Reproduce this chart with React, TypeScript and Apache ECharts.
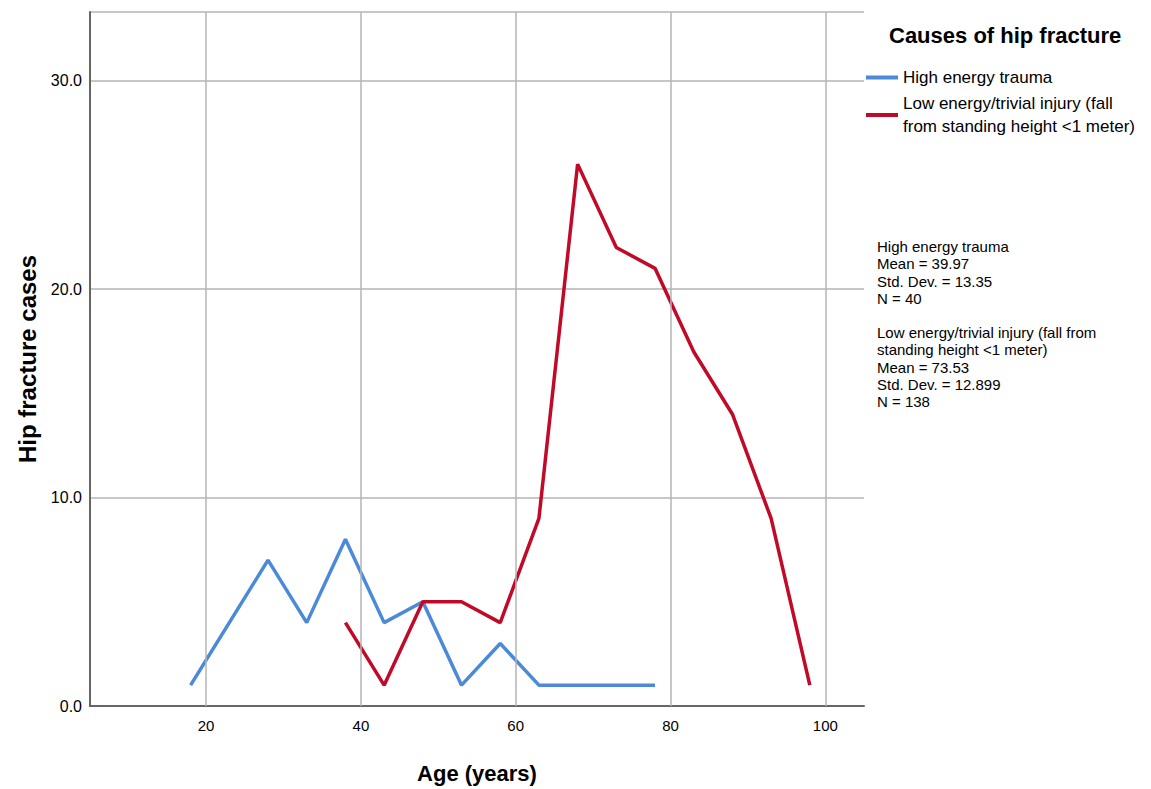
import React, { useEffect, useRef } from "react";
import * as echarts from "echarts";

const ages = [18, 23, 28, 33, 38, 43, 48, 53, 58, 63, 68, 73, 78, 83, 88, 93, 98];
const highEnergy = [1, 4, 7, 4, 8, 4, 5, 1, 3, 1, 1, 1, 1, null, null, null, null];
const lowEnergy = [null, null, null, null, 4, 1, 5, 5, 4, 9, 26, 22, 21, 17, 14, 9, 1];
const xTicks = [20, 40, 60, 80, 100];
const seriesNames = ["High energy trauma", "Low energy/trivial injury (fall from standing height <1 meter)"];
const statsText = [
  "High energy trauma",
  "Mean = 39.97",
  "Std. Dev. = 13.35",
  "N = 40",
  "",
  "Low energy/trivial injury (fall from",
  "standing height <1 meter)",
  "Mean = 73.53",
  "Std. Dev. = 12.899",
  "N = 138",
];

const FONT = "'Liberation Sans', Arial, sans-serif";

export default function App() {
  const ref = useRef<HTMLDivElement>(null);
  useEffect(() => {
    if (!ref.current) return;
    const chart = echarts.init(ref.current, null, { renderer: "svg" });
    const pairs = (vals: (number | null)[]) =>
      ages.map((a, i) => [a, vals[i]]).filter((p) => p[1] !== null);
    chart.setOption({
      animation: false,
      backgroundColor: "#ffffff",
      textStyle: { fontFamily: FONT },
      grid: { left: 90, right: 287, top: 12, bottom: 81, containLabel: false },
      title: {
        text: "Causes of hip fracture",
        left: 889,
        top: 24,
        padding: 0,
        textStyle: { fontFamily: FONT, fontSize: 22, fontWeight: "bold", color: "#000" },
      },
      legend: {
        orient: "vertical",
        left: 866,
        top: 66,
        padding: 0,
        itemWidth: 32,
        itemHeight: 4,
        itemGap: 3,
        icon: "rect",
        data: seriesNames,
        formatter: (n: string) =>
          n === seriesNames[1] ? "Low energy/trivial injury (fall\nfrom standing height <1 meter)" : n,
        textStyle: { fontFamily: FONT, fontSize: 17, color: "#000", lineHeight: 23 },
      },
      xAxis: {
        type: "value",
        min: 5,
        max: 105,
        name: "Age (years)",
        nameLocation: "middle",
        nameGap: 56,
        nameTextStyle: { fontFamily: FONT, fontSize: 22, fontWeight: "bold", color: "#000" },
        axisLine: { show: true, lineStyle: { color: "#666", width: 2 } },
        axisTick: { show: false },
        splitLine: { show: false },
        axisLabel: {
          customValues: xTicks,
          color: "#000",
          fontFamily: FONT,
          fontSize: 15,
          margin: 12,
        },
      },
      yAxis: {
        type: "value",
        min: 0,
        max: 33.3,
        interval: 10,
        name: "Hip fracture cases",
        nameLocation: "middle",
        nameGap: 50,
        nameTextStyle: { fontFamily: FONT, fontSize: 24, fontWeight: "bold", color: "#000" },
        axisLine: { show: true, lineStyle: { color: "#666", width: 2 } },
        axisTick: { show: false },
        splitLine: { show: true, lineStyle: { color: "#b4b4b4", width: 1.5 } },
        axisLabel: {
          showMaxLabel: false,
          formatter: (v: number) => v.toFixed(1),
          color: "#000",
          fontFamily: FONT,
          fontSize: 16,
          margin: 8,
        },
      },
      series: [
        {
          name: seriesNames[0],
          type: "line",
          data: pairs(highEnergy),
          symbol: "none",
          lineStyle: { color: "#4a8ad8", width: 3.5 },
          itemStyle: { color: "#4a8ad8" },
          z: 3,
        },
        {
          name: seriesNames[1],
          type: "line",
          data: pairs(lowEnergy),
          symbol: "none",
          lineStyle: { color: "#c00a28", width: 3.5 },
          itemStyle: { color: "#c00a28" },
          z: 3,
        },
        {
          name: "grid",
          type: "line",
          data: [],
          silent: true,
          z: 1,
          markLine: {
            silent: true,
            symbol: "none",
            label: { show: false },
            lineStyle: { color: "#b4b4b4", width: 1.5, type: "solid" },
            data: xTicks.map((v) => ({ xAxis: v })),
          },
        },
      ],
      graphic: [
        {
          type: "text",
          left: 877,
          top: 238,
          style: {
            text: statsText.join("\n"),
            font: `15px ${FONT}`,
            fill: "#000",
            lineHeight: 17.2,
          },
        },
      ],
    });
    return () => chart.dispose();
  }, []);
  return <div ref={ref} style={{ width: 1151, height: 789, position: "absolute", left: 0, top: 0 }} />;
}
